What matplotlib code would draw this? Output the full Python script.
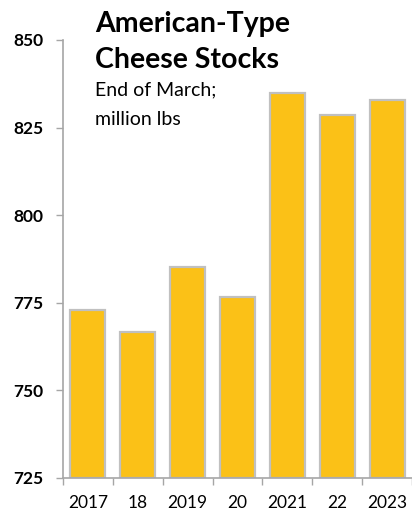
import matplotlib
matplotlib.use("Agg")
import matplotlib.pyplot as plt
import numpy as np

categories = ["2017", "18", "2019", "20", "2021", "22", "2023"]
values = [772.9, 766.8, 785.2, 776.7, 834.9, 828.6, 832.9]
yticks = [725, 750, 775, 800, 825, 850]

title_lines = ["American-Type", "Cheese Stocks"]
subtitle_lines = ["End of March;", "million lbs"]

plt.rcParams['font.family'] = ['Lato', 'DejaVu Sans']

W, H = 412, 513
fig = plt.figure(figsize=(W/100, H/100), dpi=100)
ax = fig.add_axes([63/W, (H-478)/H, (412-63)/W, (478-40)/H])

x = np.arange(len(categories))
ax.bar(x, [v - 725 for v in values], bottom=725, width=0.7, color="#FBC117",
       edgecolor="#C0C0C0", linewidth=1.6)

ax.set_ylim(725, 850)
ax.set_xlim(-0.5, len(categories) - 0.5)
ax.set_yticks(yticks)
ax.set_yticklabels([str(t) for t in yticks], fontsize=12.5, fontweight='bold')
ax.set_xticks(x)
ax.set_xticklabels(categories, fontsize=12.5)
ax.set_xticks(np.arange(-0.5, len(categories), 1), minor=True)
ax.tick_params(axis='x', which='major', length=0, pad=12)
ax.tick_params(axis='x', which='minor', length=5, color="#A6A6A6", width=1)
ax.tick_params(axis='y', length=5, color="#A6A6A6", width=1, pad=9)

for s in ['top', 'right']:
    ax.spines[s].set_visible(False)
for s in ['left', 'bottom']:
    ax.spines[s].set_color("#A6A6A6")
    ax.spines[s].set_linewidth(1.2)

fig.text(95/W, 1 - 32/H, title_lines[0], fontsize=20.5, fontweight='bold', va='baseline')
fig.text(95/W, 1 - 68/H, title_lines[1], fontsize=20.5, fontweight='bold', va='baseline')
fig.text(95/W, 1 - 95/H, subtitle_lines[0], fontsize=14, va='baseline')
fig.text(95/W, 1 - 125/H, subtitle_lines[1], fontsize=14, va='baseline')

fig.savefig("out.png", dpi=100)
